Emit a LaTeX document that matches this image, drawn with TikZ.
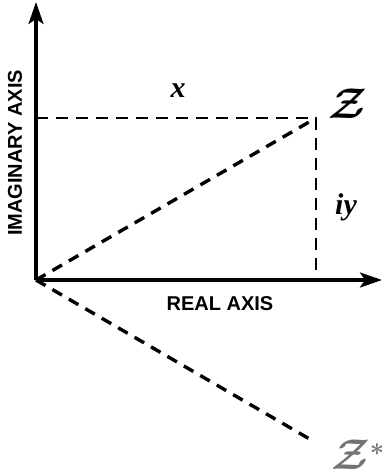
\documentclass[tikz,border=0pt]{standalone}
\usepackage{fontspec}
\usepackage{amsmath}
\setsansfont{Liberation Sans}
\newfontfamily\serifbi{Liberation Serif}
\usetikzlibrary{arrows.meta}
\begin{document}
\begin{tikzpicture}[x=1pt,y=-1pt,
  axis/.style={line width=3.2pt,-{Stealth[length=22pt,width=15pt,inset=5pt]}},
  thindash/.style={line width=1.6pt,dash pattern=on 12pt off 8pt},
  thickdash/.style={line width=3.4pt,dash pattern=on 11pt off 8pt},
  axlabel/.style={font=\sffamily\bfseries\fontsize{20}{20}\selectfont,inner sep=0pt},
  varlabel/.style={font=\serifbi\bfseries\itshape\fontsize{30}{30}\selectfont,inner sep=0pt},
  zlabel/.style={inner sep=0pt}]
\useasboundingbox (0,0) rectangle (383,475);
\coordinate (O) at (36,280);
\coordinate (Ytop) at (36,2);
\coordinate (Xend) at (382,280);
\coordinate (Z) at (316,118);
\coordinate (Yz) at (36,118);
\coordinate (Xz) at (316,280);
\coordinate (Zs) at (313,441);
\draw[thindash] (Yz) -- (Z) -- (Xz);
\draw[thickdash] (O) -- (Z);
\draw[thickdash] (O) -- (Zs);
\draw[axis] (O) -- (Ytop);
\draw[axis] (O) -- (Xend);
\node[varlabel] (xl) at (178,91) {x};
\node[varlabel] (iyl) at (346,207) {iy};
\node[zlabel] (zl) at (348,104) {\scalebox{4.3}{$\boldsymbol{\mathcal{Z}}$}};
\node[zlabel,text=black!55,anchor=west] (zsl) at (331,455) {\scalebox{4.3}{$\boldsymbol{\mathcal{Z}}$}\raisebox{14pt}{\scalebox{2.5}{$\boldsymbol{*}$}}};
\node[axlabel] (ra) at (220,304) {REAL AXIS};
\node[axlabel,rotate=90] (ia) at (15,153) {IMAGINARY AXIS};
\end{tikzpicture}
\end{document}
